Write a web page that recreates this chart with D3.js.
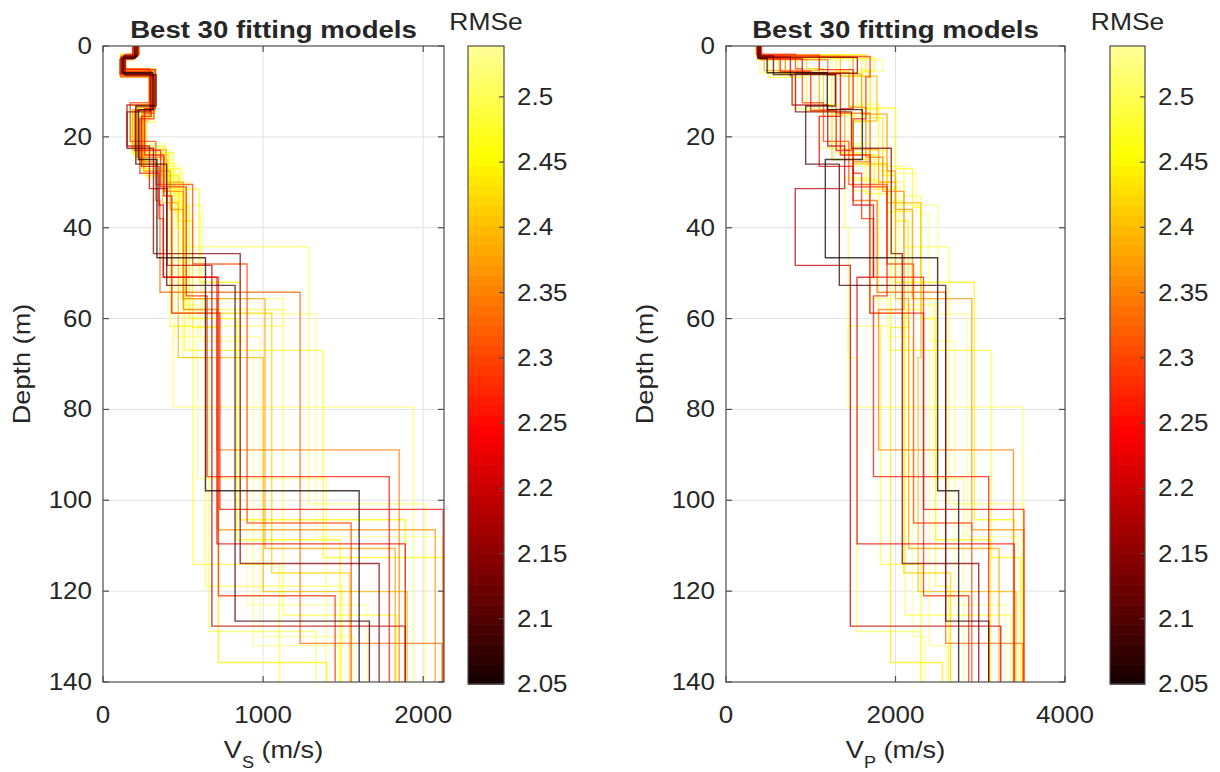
<!DOCTYPE html>
<html>
<head>
<meta charset="utf-8">
<script src="https://cdn.jsdelivr.net/npm/d3@7"></script>
<style>
  body { margin: 0; background: #fff; }
  svg text { font-family: "Liberation Sans", Arial, sans-serif; fill: #262626; }
</style>
</head>
<body>
<svg id="chart"></svg>
<script>
const width = 1220;
const height = 772;

// RMSe of each of the 30 best models (best first)
const rmse = [2.050, 2.090, 2.140, 2.190, 2.230, 2.250, 2.260, 2.280, 2.300, 2.330,
              2.350, 2.370, 2.380, 2.400, 2.420, 2.440, 2.450, 2.460, 2.470, 2.480,
              2.490, 2.500, 2.505, 2.510, 2.515, 2.520, 2.525, 2.530, 2.535, 2.538];

// layer bottoms (m) for every model, shared by Vs and Vp
const interfaces = [
  [2.7, 5.9, 14.0, 25.0, 46.6, 97.9],
  [2.2, 6.3, 13.2, 26.0, 52.7, 126.6],
  [2.5, 6.0, 14.5, 22.5, 45.7, 113.9],
  [2.4, 6.5, 13.0, 22.0, 31.4, 48.3, 127.7],
  [2.8, 6.1, 15.5, 26.5, 35.0, 50.9, 109.6],
  [2.0, 5.2, 13.8, 24.0, 33.0, 58.8, 102.0],
  [2.6, 5.6, 14.2, 23.0, 31.0, 55.0, 94.8],
  [2.3, 6.8, 16.0, 28.0, 38.0, 50.9, 121.0],
  [1.8, 5.0, 12.5, 21.0, 30.5, 48.0, 105.0],
  [3.0, 6.4, 14.8, 25.5, 34.0, 54.2, 131.5],
  [2.1, 5.8, 13.5, 24.5, 32.0, 58.0, 88.9],
  [2.5, 6.2, 15.0, 27.5, 36.0, 55.6, 106.5],
  [2.9, 5.4, 14.0, 22.8, 30.0, 55.6, 110.6],
  [2.2, 6.6, 16.5, 26.0, 34.5, 68.6, 120.1],
  [2.6, 5.0, 13.0, 25.0, 33.0, 58.8, 116.0],
  [1.9, 5.7, 15.8, 28.5, 38.5, 62.0, 135.7],
  [2.4, 6.0, 14.5, 24.0, 31.5, 52.0, 104.3],
  [2.7, 5.3, 13.7, 27.0, 35.5, 60.0, 108.7],
  [2.0, 6.9, 14.3, 23.5, 32.5, 67.0, 112.6],
  [2.3, 5.5, 13.2, 22.0, 29.5, 61.7, 114.1],
  [2.8, 6.3, 15.2, 25.8, 36.5, 55.6, 118.9],
  [2.1, 5.1, 12.8, 26.5, 33.0, 58.0, 125.3],
  [2.5, 6.1, 16.8, 29.0, 40.0, 68.6, 128.9],
  [2.6, 5.8, 14.0, 27.5, 34.0, 44.2, 100.8],
  [1.7, 5.9, 13.8, 22.5, 32.0, 55.6, 61.7, 79.5],
  [2.2, 6.7, 15.5, 24.0, 31.0, 57.0, 95.2],
  [3.1, 5.6, 13.5, 23.0, 30.0, 67.0, 132.0],
  [2.4, 6.4, 14.5, 26.5, 35.0, 59.0, 108.0],
  [2.0, 5.3, 12.9, 21.5, 30.0, 64.0, 130.0],
  [2.7, 6.0, 15.0, 28.0, 37.0, 65.0, 123.0]
];

// shear-wave velocity of each layer (m/s)
const vsModels = [
  [200, 118, 312, 222, 337, 640, 1600],
  [215, 130, 332, 205, 398, 825, 1664],
  [208, 125, 295, 150, 315, 857, 1725],
  [195, 140, 320, 150, 290, 400, 680, 1888],
  [185, 108, 300, 240, 350, 377, 712, 1888],
  [220, 135, 326, 260, 380, 430, 730, 2125],
  [198, 122, 305, 200, 360, 520, 650, 1788],
  [210, 112, 318, 230, 350, 377, 721, 1450],
  [225, 140, 290, 170, 330, 560, 900, 1550],
  [190, 105, 315, 245, 330, 356, 1231, 2118],
  [212, 128, 308, 215, 380, 502, 713, 1850],
  [205, 120, 298, 255, 420, 502, 715, 2075],
  [188, 132, 322, 185, 395, 502, 1012, 1825],
  [218, 115, 285, 230, 372, 470, 1000, 1900],
  [200, 138, 330, 210, 400, 427, 1054, 1540],
  [222, 110, 302, 265, 470, 560, 720, 1398],
  [207, 124, 314, 195, 410, 600, 856, 1888],
  [196, 128, 296, 250, 480, 540, 835, 1481],
  [218, 118, 318, 180, 440, 510, 1375, 2125],
  [208, 135, 308, 200, 390, 420, 562, 1100],
  [192, 112, 300, 230, 450, 500, 640, 1490],
  [214, 142, 292, 240, 420, 520, 1127, 1838],
  [203, 122, 325, 275, 460, 500, 660, 1331],
  [198, 126, 310, 240, 430, 500, 1284, 2012],
  [228, 116, 296, 210, 380, 480, 1127, 440, 1940],
  [212, 108, 320, 190, 410, 510, 592, 1394],
  [186, 130, 300, 220, 420, 540, 940, 1470],
  [206, 120, 312, 245, 490, 620, 1331, 2118],
  [216, 138, 288, 170, 380, 450, 980, 1560],
  [197, 124, 306, 270, 500, 610, 900, 1650]
];

// compressional-wave velocity of each layer (m/s)
const vpModels = [
  [379, 485, 1195, 1609, 1172, 2497, 2745],
  [405, 560, 1290, 940, 1337, 2592, 3100],
  [392, 1550, 820, 1480, 1950, 2080, 2982],
  [370, 760, 780, 1200, 1400, 817, 1467, 3242],
  [400, 900, 1350, 1100, 1500, 1740, 1546, 3400],
  [420, 1100, 1500, 1350, 1700, 1697, 2331, 3515],
  [385, 640, 1000, 1300, 1500, 1900, 1740, 3100],
  [395, 1700, 1650, 1500, 1600, 1740, 2331, 2864],
  [360, 820, 900, 1150, 1450, 1900, 2213, 2900],
  [410, 1200, 1300, 1700, 1500, 1783, 2592, 3503],
  [398, 700, 1450, 1650, 1850, 2100, 1800, 3392],
  [390, 1500, 1600, 1900, 2000, 2200, 2900, 3515],
  [372, 450, 1100, 1400, 1800, 2000, 2156, 3222],
  [402, 1350, 1780, 1500, 1900, 2300, 2268, 3420],
  [388, 950, 1150, 1250, 1700, 1697, 2100, 2650],
  [365, 1650, 1700, 1850, 2000, 2150, 1941, 2552],
  [385, 620, 1250, 1350, 1750, 2000, 2930, 3400],
  [380, 1750, 1600, 2000, 2200, 2300, 2473, 3124],
  [410, 500, 950, 1300, 1650, 1941, 3132, 3479],
  [395, 1300, 1450, 1600, 1500, 1800, 1822, 2300],
  [375, 850, 1200, 1500, 1900, 2200, 2473, 2627],
  [398, 1600, 1550, 1800, 2100, 2300, 2118, 3360],
  [385, 700, 1500, 1700, 1400, 1442, 1546, 2296],
  [383, 1100, 1650, 1800, 1950, 2095, 2627, 3500],
  [350, 400, 800, 1100, 1500, 1700, 1941, 1442, 3500],
  [392, 1450, 1700, 1500, 1800, 2050, 2450, 2805],
  [370, 1850, 1600, 1700, 1900, 2100, 2400, 2600],
  [386, 550, 1050, 1450, 2000, 2500, 2850, 3450],
  [400, 1250, 1400, 1200, 1700, 1900, 2200, 2350],
  [382, 760, 1350, 1900, 2250, 2400, 2700, 3300]
];

const depthTicks = [0, 20, 40, 60, 80, 100, 120, 140];
const vsTicks = [0, 1000, 2000];
const vpTicks = [0, 2000, 4000];
const rmseTicks = [2.05, 2.1, 2.15, 2.2, 2.25, 2.3, 2.35, 2.4, 2.45, 2.5];
const rmseRange = [2.05, 2.539];
const maxDepth = 140;

const svg = d3.select("#chart")
    .attr("width", width)
    .attr("height", height);

// MATLAB "hot" colormap, upper end cut short of white
function hot(v) {
    const t = Math.max(0, Math.min(1, (v - rmseRange[0]) / (rmseRange[1] - rmseRange[0])));
    const s = 0.03 + t * 0.87;
    const c = x => Math.round(255 * Math.max(0, Math.min(1, x)));
    return `rgb(${c(s / 0.375)},${c((s - 0.375) / 0.375)},${c((s - 0.75) / 0.25)})`;
}

// text helper: fonts in the figure are a bit wider than Liberation Sans
function addText(g, x, y, str, size, opts = {}) {
    const sx = opts.sx || 1.13;
    const rot = opts.rotate || 0;
    return g.append("text")
        .attr("transform", `translate(${x},${y}) rotate(${rot}) scale(${sx},1)`)
        .attr("text-anchor", opts.anchor || "middle")
        .attr("font-size", size)
        .attr("font-weight", opts.bold ? "bold" : "normal")
        .attr("fill", opts.bold ? "#000" : "#262626")
        .text(str);
}

function drawPanel(cfg) {
    const x = d3.scaleLinear().domain(cfg.xDomain).range([cfg.left, cfg.right]);
    const y = d3.scaleLinear().domain([0, maxDepth]).range([cfg.top, cfg.bottom]);
    const g = svg.append("g");

    // grid
    g.append("g").selectAll("line.gy")
        .data(depthTicks.slice(1, -1))
        .enter().append("line")
        .attr("x1", cfg.left).attr("x2", cfg.right)
        .attr("y1", d => y(d)).attr("y2", d => y(d))
        .attr("stroke", "#e3e3e3").attr("stroke-width", 1);
    g.append("g").selectAll("line.gx")
        .data(cfg.xTicks.filter(d => d > cfg.xDomain[0] && d < cfg.xDomain[1]))
        .enter().append("line")
        .attr("y1", cfg.top).attr("y2", cfg.bottom)
        .attr("x1", d => x(d)).attr("x2", d => x(d))
        .attr("stroke", "#e3e3e3").attr("stroke-width", 1);

    // clip
    svg.append("clipPath").attr("id", cfg.id + "-clip")
        .append("rect")
        .attr("x", cfg.left).attr("y", cfg.top)
        .attr("width", cfg.right - cfg.left).attr("height", cfg.bottom - cfg.top);

    const line = d3.line().x(d => x(d[0])).y(d => y(d[1]));

    // worst first, best (black) drawn last
    const order = d3.range(rmse.length).sort((a, b) => rmse[b] - rmse[a]);
    g.append("g")
        .attr("clip-path", `url(#${cfg.id}-clip)`)
        .selectAll("path")
        .data(order)
        .enter().append("path")
        .attr("d", i => {
            const v = cfg.values[i];
            const d = interfaces[i];
            const pts = [[v[0], 0]];
            d.forEach((z, k) => { pts.push([v[k], z]); pts.push([v[k + 1], z]); });
            pts.push([v[v.length - 1], maxDepth]);
            return line(pts);
        })
        .attr("fill", "none")
        .attr("stroke", i => hot(rmse[i]))
        .attr("stroke-opacity", 0.75)
        .attr("stroke-width", 1.4);

    // box with inward ticks on all sides
    g.append("rect")
        .attr("x", cfg.left).attr("y", cfg.top)
        .attr("width", cfg.right - cfg.left).attr("height", cfg.bottom - cfg.top)
        .attr("fill", "none").attr("stroke", "#4d4d4d").attr("stroke-width", 1.2);

    const tickLen = 6;
    depthTicks.forEach(t => {
        g.append("line").attr("x1", cfg.left).attr("x2", cfg.left + tickLen)
            .attr("y1", y(t)).attr("y2", y(t)).attr("stroke", "#4d4d4d").attr("stroke-width", 1.2);
        g.append("line").attr("x1", cfg.right).attr("x2", cfg.right - tickLen)
            .attr("y1", y(t)).attr("y2", y(t)).attr("stroke", "#4d4d4d").attr("stroke-width", 1.2);
        addText(g, cfg.left - 11, y(t) + 8, t, 23, { anchor: "end" });
    });
    cfg.xTicks.forEach(t => {
        g.append("line").attr("x1", x(t)).attr("x2", x(t))
            .attr("y1", cfg.top).attr("y2", cfg.top + tickLen).attr("stroke", "#4d4d4d").attr("stroke-width", 1.2);
        g.append("line").attr("x1", x(t)).attr("x2", x(t))
            .attr("y1", cfg.bottom).attr("y2", cfg.bottom - tickLen).attr("stroke", "#4d4d4d").attr("stroke-width", 1.2);
        addText(g, x(t), cfg.bottom + 41, t, 23);
    });

    const cx = (cfg.left + cfg.right) / 2;
    addText(g, cx, 38, "Best 30 fitting models", 24, { bold: true, sx: 1.15 });
    addText(g, cfg.left - 73, (cfg.top + cfg.bottom) / 2, "Depth (m)", 24, { rotate: -90, sx: 1.13 });

    const xl = addText(g, cx, 758, "V", 24);
    xl.append("tspan").attr("font-size", 16).attr("dy", 10).text(cfg.sub);
    xl.append("tspan").attr("dy", -10).text(" (m/s)");

    // colorbar
    const cb = d3.scaleLinear().domain(rmseRange).range([cfg.cbBottom, cfg.top]);
    const nBands = 64;
    g.append("g").selectAll("rect")
        .data(d3.range(nBands))
        .enter().append("rect")
        .attr("x", cfg.cbLeft)
        .attr("width", cfg.cbWidth)
        .attr("y", k => cb(rmseRange[0] + (k + 1) * (rmseRange[1] - rmseRange[0]) / nBands))
        .attr("height", (cfg.cbBottom - cfg.top) / nBands + 0.6)
        .attr("fill", k => hot(rmseRange[0] + (k + 0.5) * (rmseRange[1] - rmseRange[0]) / nBands));
    g.append("rect")
        .attr("x", cfg.cbLeft).attr("y", cfg.top)
        .attr("width", cfg.cbWidth).attr("height", cfg.cbBottom - cfg.top)
        .attr("fill", "none").attr("stroke", "#4d4d4d").attr("stroke-width", 1.2);
    rmseTicks.forEach(t => {
        g.append("line")
            .attr("x1", cfg.cbLeft + cfg.cbWidth).attr("x2", cfg.cbLeft + cfg.cbWidth - 5)
            .attr("y1", cb(t)).attr("y2", cb(t))
            .attr("stroke", "#4d4d4d").attr("stroke-width", 1.2);
        addText(g, cfg.cbLeft + cfg.cbWidth + 13, cb(t) + 8, t, 23, { anchor: "start" });
    });
    addText(g, cfg.cbLeft + cfg.cbWidth / 2, 30, "RMSe", 24, { sx: 1.1 });
}

drawPanel({
    id: "vs", left: 103, right: 444, top: 46, bottom: 682,
    xDomain: [0, 2130], xTicks: vsTicks, values: vsModels, sub: "S",
    cbLeft: 468, cbWidth: 36, cbBottom: 684
});

drawPanel({
    id: "vp", left: 726, right: 1065, top: 46, bottom: 682,
    xDomain: [0, 4000], xTicks: vpTicks, values: vpModels, sub: "P",
    cbLeft: 1110, cbWidth: 35, cbBottom: 684
});
</script>
</body>
</html>
